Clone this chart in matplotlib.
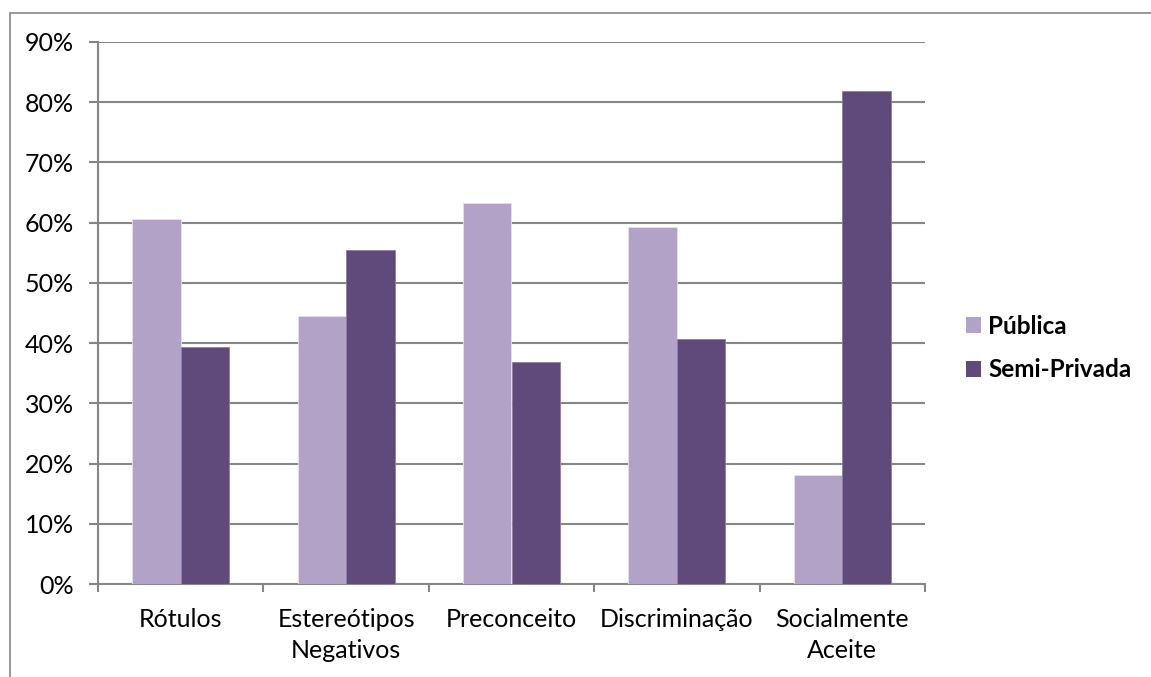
import numpy as np
import matplotlib.pyplot as plt
from matplotlib.patches import Rectangle, Patch
from matplotlib.ticker import FixedLocator, PercentFormatter

# Survey results per category (share of answers, %)
categorias = ["Rótulos", "Estereótipos\nNegativos", "Preconceito", "Discriminação", "Socialmente\nAceite"]
publica = [60.6, 44.5, 63.2, 59.3, 18.1]
semi_privada = [39.4, 55.5, 36.8, 40.7, 81.9]

cor_publica = "#B3A2C7"
cor_semi = "#604A7B"
cor_grelha = "#868686"

plt.rcParams["font.family"] = ["Lato", "DejaVu Sans"]

W, H = 1151, 677
fig = plt.figure(figsize=(W / 100, H / 100), dpi=100)

# chart area border (runs off the right and bottom edges)
fig.patches.append(Rectangle((9.5 / W, -0.1), 1.2, 1.1 - 12.5 / H,
                             transform=fig.transFigure, fill=False,
                             edgecolor=cor_grelha, linewidth=1.2))

ax = fig.add_axes([98 / W, (H - 584) / H, 827 / W, 542 / H])

x = np.arange(len(categorias))
largura = 0.293
ax.bar(x - largura / 2, publica, largura, color=cor_publica,
       edgecolor="#E6E0EE", linewidth=0.6, zorder=3, label="Pública")
ax.bar(x + largura / 2, semi_privada, largura, color=cor_semi,
       edgecolor="#8E7DA6", linewidth=0.6, zorder=3, label="Semi-Privada")

ax.set_xlim(-0.5, len(categorias) - 0.5)
ax.set_ylim(0, 90)
ax.set_yticks(np.arange(0, 91, 10))
ax.yaxis.set_major_formatter(PercentFormatter(decimals=0))
ax.yaxis.grid(True, color=cor_grelha, linewidth=1.5, zorder=0)

ax.set_xticks(x)
ax.set_xticklabels(categorias, linespacing=1.45)
ax.xaxis.set_minor_locator(FixedLocator(np.arange(-0.5, len(categorias), 1)))

for lado in ["top", "right"]:
    ax.spines[lado].set_visible(False)
for lado in ["left", "bottom"]:
    ax.spines[lado].set_color(cor_grelha)
    ax.spines[lado].set_linewidth(1.5)

ax.tick_params(axis="y", length=6.5, width=1.5, color=cor_grelha,
               labelsize=18, pad=11)
ax.tick_params(axis="x", which="major", length=0, labelsize=18, pad=17)
ax.tick_params(axis="x", which="minor", length=6, width=1.5, color=cor_grelha)

handles = [Patch(facecolor=cor_publica), Patch(facecolor=cor_semi)]
fig.legend(handles, ["Pública", "Semi-Privada"], loc="center left",
           bbox_to_anchor=(966 / W, 1 - 348 / H), frameon=False,
           prop={"size": 17.5, "weight": "bold"}, handlelength=0.62,
           handleheight=0.62, handletextpad=0.3, labelspacing=0.85,
           borderpad=0, borderaxespad=0)

fig.savefig("out.png", dpi=100)
